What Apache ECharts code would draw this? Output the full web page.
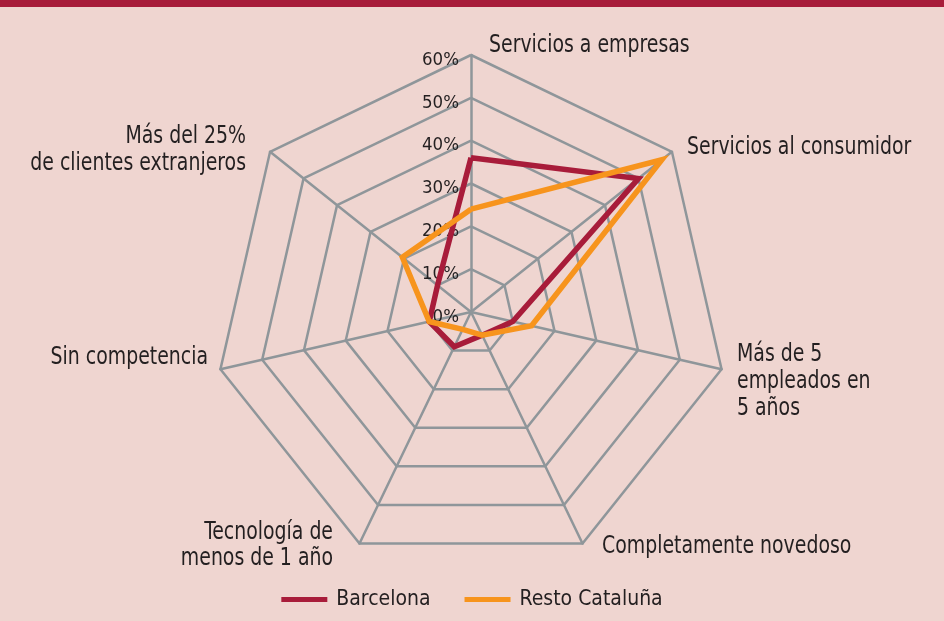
<!DOCTYPE html>
<html>
<head>
<meta charset="utf-8">
<title>Radar</title>
<script src="https://cdn.jsdelivr.net/npm/echarts@6/dist/echarts.min.js"></script>
<style>
  html, body { margin: 0; padding: 0; background: #efd5d0; }
  #main { width: 944px; height: 621px; }
</style>
</head>
<body>
<div id="main"></div>
<script>
// indicadores, en el orden de ECharts (desde arriba, sentido antihorario)
var indicadores = [
    'Servicios a empresas',
    'Más del 25%\nde clientes extranjeros',
    'Sin competencia',
    'Tecnología de\nmenos de 1 año',
    'Completamente novedoso',
    'Más de 5\nempleados en\n5 años',
    'Servicios al consumidor'
]
var series_nombres = ['Barcelona', 'Resto Cataluña']
// valores en %
var barcelona = [36, 10, 10, 9, 6, 10, 50]
var restoCataluna = [24, 20.5, 10, 4.5, 6, 14.5, 57]
var escalaMax = 60

var fuente = "'DejaVu Sans Condensed', 'DejaVu Sans', sans-serif"
var colorTexto = '#231f20'
var colorRejilla = '#8f969a'
// la fuente del original es más estrecha: se comprime en horizontal
var compresion = 0.84

// posiciones de los nombres de los ejes (mismo orden que indicadores)
var posNombres = [
    {x: 489, y: 45, align: 'left', v: 'middle'},
    {x: 246, y: 123, align: 'right', v: 'top', lh: 27},
    {x: 208, y: 357, align: 'right', v: 'middle'},
    {x: 333, y: 519, align: 'right', v: 'top', lh: 26},
    {x: 602, y: 546, align: 'left', v: 'middle'},
    {x: 737, y: 341, align: 'left', v: 'top', lh: 27},
    {x: 687, y: 147, align: 'left', v: 'middle'}
]

var textos = indicadores.map(function (nombre, i) {
    var p = posNombres[i]
    return {
        type: 'text',
        x: p.x,
        y: p.y,
        scaleX: compresion,
        style: {
            text: nombre,
            x: 0,
            y: 0,
            fill: colorTexto,
            font: '25px ' + fuente,
            lineHeight: p.lh || 26,
            align: p.align,
            verticalAlign: p.v
        }
    }
})

var myChart = echarts.init(document.getElementById('main'));

var option = {
    backgroundColor: '#efd5d0',
    animation: false,
    graphic: [
        {
            // franja superior
            type: 'rect',
            shape: {x: 0, y: 0, width: 944, height: 7},
            style: {fill: '#a81c3a'}
        }
    ].concat(textos),
    legend: {
        data: series_nombres,
        left: 'center',
        top: 589,
        icon: 'rect',
        itemWidth: 46,
        itemHeight: 5,
        itemGap: 34,
        padding: 0,
        textStyle: {
            fontFamily: fuente,
            fontSize: 21,
            color: colorTexto,
            padding: [0, 0, 0, 4]
        }
    },
    radar: {
        center: [471, 312],
        radius: 257,
        startAngle: 90,
        shape: 'polygon',
        splitNumber: 6,
        indicator: indicadores.map(function (nombre, i) {
            var ind = {name: nombre, min: 0, max: escalaMax}
            if (i === 0) {
                // solo el eje superior lleva las etiquetas de porcentaje
                ind.axisLabel = {
                    show: true,
                    formatter: '{value}%',
                    color: colorTexto,
                    fontFamily: fuente,
                    fontSize: 18.5,
                    margin: 12,
                    verticalAlign: 'top',
                    lineHeight: 10
                }
            }
            return ind
        }),
        axisName: {show: false},
        axisLabel: {show: false},
        axisTick: {show: false},
        axisLine: {lineStyle: {color: colorRejilla, width: 2.5}},
        splitLine: {lineStyle: {color: colorRejilla, width: 2.5}},
        splitArea: {show: false}
    },
    series: [
        {
            type: 'radar',
            symbol: 'none',
            data: [
                {
                    name: series_nombres[0],
                    value: barcelona,
                    itemStyle: {color: '#a81c3a'},
                    lineStyle: {color: '#a81c3a', width: 5.5, join: 'miter'}
                },
                {
                    name: series_nombres[1],
                    value: restoCataluna,
                    itemStyle: {color: '#f7941d'},
                    lineStyle: {color: '#f7941d', width: 5.5, join: 'miter'}
                }
            ]
        }
    ]
};

myChart.setOption(option);
window.addEventListener('resize', () => {
    myChart.resize()
})
</script>
</body>
</html>
